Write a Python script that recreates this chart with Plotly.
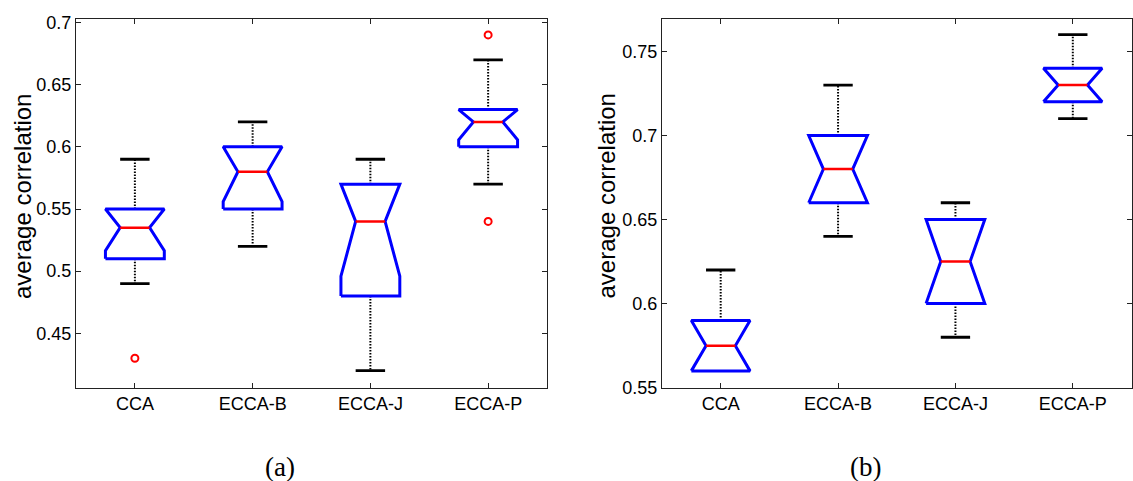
import plotly.graph_objects as go

W, H = 1133, 481

categories = ["CCA", "ECCA-B", "ECCA-J", "ECCA-P"]

# panel (a)
a_lower = [0.49, 0.52, 0.42, 0.57]
a_q1 = [0.51, 0.55, 0.48, 0.60]
a_med = [0.535, 0.58, 0.54, 0.62]
a_q3 = [0.55, 0.60, 0.57, 0.63]
a_upper = [0.59, 0.62, 0.59, 0.67]
a_notch = [0.0186, 0.024, 0.044, 0.0144]
a_outliers = [[0.43], [], [], [0.69, 0.54]]

# panel (b)
b_lower = [0.56, 0.64, 0.58, 0.71]
b_q1 = [0.56, 0.66, 0.60, 0.72]
b_med = [0.575, 0.68, 0.625, 0.73]
b_q3 = [0.59, 0.70, 0.65, 0.74]
b_upper = [0.62, 0.73, 0.66, 0.76]
b_notch = [0.02, 0.025, 0.03, 0.012]
b_outliers = [[], [], [], []]

a_yticks = [0.45, 0.5, 0.55, 0.6, 0.65, 0.7]
a_yticktext = ["0.45", "0.5", "0.55", "0.6", "0.65", "0.7"]
b_yticks = [0.55, 0.6, 0.65, 0.7, 0.75]
b_yticktext = ["0.55", "0.6", "0.65", "0.7", "0.75"]

BW = 0.25   # half box width
NW = 0.125  # half notch / cap width

fig = go.Figure()


def add_panel(xa, ya, lower, q1, med, q3, upper, notch, outliers):
    wx, wy, cx, cy, bx, by, mx, my, ox, oy = [], [], [], [], [], [], [], [], [], []
    for i in range(len(categories)):
        x = i + 1
        if upper[i] > q3[i]:
            wx += [x, x, None]; wy += [q3[i], upper[i], None]
            cx += [x - NW, x + NW, None]; cy += [upper[i], upper[i], None]
        if lower[i] < q1[i]:
            wx += [x, x, None]; wy += [q1[i], lower[i], None]
            cx += [x - NW, x + NW, None]; cy += [lower[i], lower[i], None]
        nlo = max(med[i] - notch[i], q1[i])
        nhi = min(med[i] + notch[i], q3[i])
        bx += [x - BW, x - BW, x - NW, x - BW, x - BW, x + BW, x + BW, x + NW, x + BW, x + BW, x - BW, None]
        by += [q1[i], nlo, med[i], nhi, q3[i], q3[i], nhi, med[i], nlo, q1[i], q1[i], None]
        mx += [x - NW, x + NW, None]; my += [med[i], med[i], None]
        for o in outliers[i]:
            ox.append(x); oy.append(o)
    common = dict(xaxis=xa, yaxis=ya, mode="lines", showlegend=False, hoverinfo="skip")
    fig.add_trace(go.Scatter(x=wx, y=wy, line=dict(color="black", width=2, dash="1.5px,1.5px"), **common))
    fig.add_trace(go.Scatter(x=cx, y=cy, line=dict(color="black", width=2.8), **common))
    fig.add_trace(go.Scatter(x=bx, y=by, line=dict(color="#0000ff", width=3), **common))
    fig.add_trace(go.Scatter(x=mx, y=my, line=dict(color="#ff0000", width=2.5), **common))
    if ox:
        fig.add_trace(go.Scatter(x=ox, y=oy, xaxis=xa, yaxis=ya, mode="markers", showlegend=False,
                                 hoverinfo="skip",
                                 marker=dict(symbol="circle-open", color="#ff0000", size=7,
                                             line=dict(width=2, color="#ff0000"))))


add_panel("x", "y", a_lower, a_q1, a_med, a_q3, a_upper, a_notch, a_outliers)
add_panel("x2", "y2", b_lower, b_q1, b_med, b_q3, b_upper, b_notch, b_outliers)

S = 1.021  # vertical correction


def py(v):
    return 1 - v * S / H


ydom = [py(386.7), py(13.3)]
axis_common = dict(showline=True, linecolor="#222222", linewidth=1, mirror="ticks",
                   ticks="inside", ticklen=5, tickcolor="#222222", showgrid=False, zeroline=False,
                   tickfont=dict(family="Liberation Sans, Arial", size=18, color="black"))

fig.update_layout(
    width=W, height=H,
    margin=dict(l=0, r=0, t=0, b=0),
    paper_bgcolor="white", plot_bgcolor="white",
    xaxis=dict(domain=[76 / W, 547 / W], range=[0.5, 4.5], tickvals=[1, 2, 3, 4],
               ticktext=categories, anchor="y", **axis_common),
    yaxis=dict(domain=ydom, range=[0.4063, 0.7027], tickvals=a_yticks, ticktext=a_yticktext,
               anchor="x", **axis_common),
    xaxis2=dict(domain=[662 / W, 1131.5 / W], range=[0.5, 4.5], tickvals=[1, 2, 3, 4],
                ticktext=categories, anchor="y2", **axis_common),
    yaxis2=dict(domain=ydom, range=[0.55, 0.7692], tickvals=b_yticks, ticktext=b_yticktext,
                anchor="x2", **axis_common),
)

for xp, txt in [(22.5, "average correlation"), (606, "average correlation")]:
    fig.add_annotation(x=xp / W, y=py(193), xref="paper", yref="paper", text=txt, textangle=-90,
                       showarrow=False, xanchor="center", yanchor="middle",
                       font=dict(family="Liberation Sans, Arial", size=24, color="black"))
for xp, txt in [(280, "(a)"), (865, "(b)")]:
    fig.add_annotation(x=xp / W, y=py(467), xref="paper", yref="paper", text=txt,
                       showarrow=False, xanchor="center", yanchor="middle",
                       font=dict(family="Liberation Serif, Times New Roman", size=27, color="black"))

fig.write_html("out.html", config={"displayModeBar": False},
               post_script="document.documentElement.style.margin='0';document.body.style.margin='0';"
                           "document.body.style.overflow='hidden';")
